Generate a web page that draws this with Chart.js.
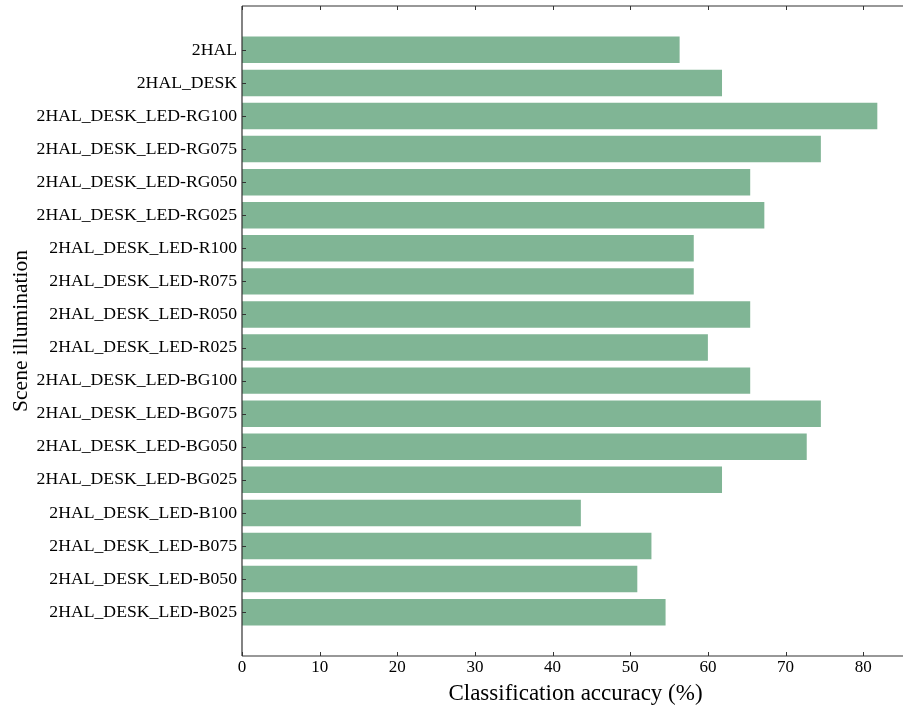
<!DOCTYPE html>
<html>
<head>
<meta charset="utf-8">
<script src="https://cdn.jsdelivr.net/npm/chart.js@4/dist/chart.umd.min.js"></script>
<style>
  html, body { margin: 0; padding: 0; background: #fff; overflow: hidden; }
  #wrap { position: relative; width: 912px; height: 708px; }
</style>
</head>
<body>
<div id="wrap"><canvas id="c"></canvas></div>
<script>
// Scene illumination conditions, top to bottom
const categories = [
  '2HAL', '2HAL_DESK',
  '2HAL_DESK_LED-RG100', '2HAL_DESK_LED-RG075', '2HAL_DESK_LED-RG050', '2HAL_DESK_LED-RG025',
  '2HAL_DESK_LED-R100', '2HAL_DESK_LED-R075', '2HAL_DESK_LED-R050', '2HAL_DESK_LED-R025',
  '2HAL_DESK_LED-BG100', '2HAL_DESK_LED-BG075', '2HAL_DESK_LED-BG050', '2HAL_DESK_LED-BG025',
  '2HAL_DESK_LED-B100', '2HAL_DESK_LED-B075', '2HAL_DESK_LED-B050', '2HAL_DESK_LED-B025'
];
// Classification accuracy (%) per condition
const accuracy = [
  56.36, 61.82,
  81.82, 74.55, 65.45, 67.27,
  58.18, 58.18, 65.45, 60.00,
  65.45, 74.55, 72.73, 61.82,
  43.64, 52.73, 50.91, 54.55
];
const xTicks = [0, 10, 20, 30, 40, 50, 60, 70, 80];

const FONT = "'Liberation Serif', 'DejaVu Serif', serif";
const AXIS_COLOR = '#333';

// Frame lines and inward-pointing tick marks
const framePlugin = {
  id: 'frame',
  afterDraw(chart) {
    const { ctx, chartArea: a, scales } = chart;
    ctx.save();
    ctx.strokeStyle = AXIS_COLOR;
    ctx.lineWidth = 1.2;
    ctx.beginPath();
    ctx.moveTo(a.left, a.top); ctx.lineTo(a.right, a.top);
    ctx.moveTo(a.left, a.bottom); ctx.lineTo(a.right, a.bottom);
    ctx.moveTo(a.left, a.top); ctx.lineTo(a.left, a.bottom);
    ctx.stroke();
    ctx.lineWidth = 1;
    ctx.beginPath();
    const L = 4;
    xTicks.forEach(v => {
      const px = Math.round(scales.x.getPixelForValue(v)) + 0.5;
      ctx.moveTo(px, a.bottom); ctx.lineTo(px, a.bottom - L);
      ctx.moveTo(px, a.top); ctx.lineTo(px, a.top + L);
    });
    categories.forEach((_, i) => {
      const py = Math.round(scales.y.getPixelForValue(i)) + 0.5;
      ctx.moveTo(a.left, py); ctx.lineTo(a.left + L, py);
    });
    ctx.stroke();
    ctx.restore();
  }
};

new Chart(document.getElementById('c'), {
  type: 'bar',
  data: {
    datasets: [{
      data: accuracy.map((v, i) => ({ x: v, y: i })),
      backgroundColor: '#80b595',
      borderWidth: 0,
      barPercentage: 0.8,
      categoryPercentage: 1.0
    }]
  },
  plugins: [framePlugin],
  options: {
    indexAxis: 'y',
    responsive: true,
    maintainAspectRatio: false,
    animation: false,
    layout: { padding: { top: 6, right: 3, left: 0, bottom: 0 } },
    plugins: { legend: { display: false }, tooltip: { enabled: false } },
    scales: {
      x: {
        type: 'linear',
        min: 0,
        max: 85.9,
        grid: { display: false, drawTicks: false },
        border: { display: false },
        ticks: {
          stepSize: 10,
          includeBounds: false,
          color: '#000',
          padding: 1,
          font: { family: FONT, size: 17 }
        },
        afterBuildTicks: s => { s.ticks = xTicks.map(v => ({ value: v })); },
        afterFit: s => { s.height = 52; s.paddingLeft = 0; s.paddingRight = 0; },
        title: {
          display: true,
          text: 'Classification accuracy (%)',
          color: '#000',
          font: { family: FONT, size: 23 },
          padding: { top: 0, bottom: 0 }
        }
      },
      y: {
        type: 'linear',
        reverse: true,
        min: -0.78,
        max: 17.78,
        grid: { display: false, drawTicks: false },
        border: { display: false },
        ticks: {
          color: '#000',
          padding: 5,
          font: { family: FONT, size: 17.7 },
          callback: v => categories[v]
        },
        afterBuildTicks: s => { s.ticks = categories.map((_, i) => ({ value: i })); },
        afterFit: s => { s.width = 242; s.paddingTop = 0; s.paddingBottom = 0; },
        title: {
          display: true,
          text: 'Scene illumination',
          color: '#000',
          font: { family: FONT, size: 21.5 },
          padding: { top: 8, bottom: 0 }
        }
      }
    }
  }
});
</script>
</body>
</html>
